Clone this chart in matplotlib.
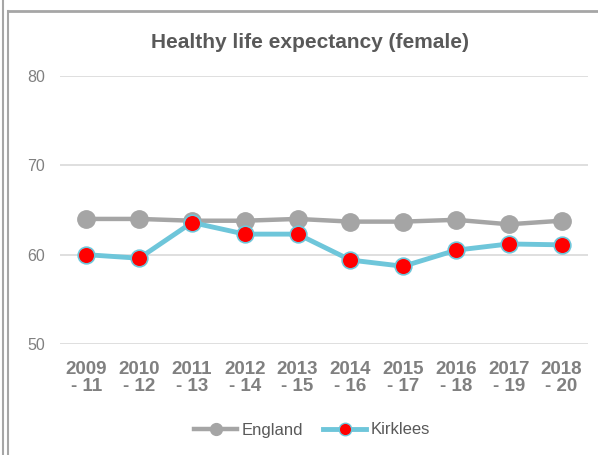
import matplotlib
matplotlib.use("Agg")
import matplotlib.pyplot as plt
from matplotlib.lines import Line2D

periods = ["2009\n- 11", "2010\n- 12", "2011\n- 13", "2012\n- 14", "2013\n- 15",
           "2014\n- 16", "2015\n- 17", "2016\n- 18", "2017\n- 19", "2018\n- 20"]
england = [64.0, 64.0, 63.8, 63.8, 64.0, 63.7, 63.7, 63.9, 63.4, 63.8]
kirklees = [60.0, 59.6, 63.6, 62.3, 62.3, 59.4, 58.7, 60.5, 61.2, 61.1]
yticks = [50, 60, 70, 80]

plt.rcParams['font.family'] = ['Liberation Sans', 'DejaVu Sans']

fig = plt.figure(figsize=(5.98, 4.55), dpi=100)
ax = fig.add_axes([60/598, 1-344/455, 528/598, 268/455])

x = list(range(len(periods)))
grey = "#A5A5A5"
blue = "#6EC6DA"

ax.plot(x, england, color=grey, lw=3.2, marker="o", ms=12.5,
        mfc=grey, mec=grey, zorder=3)
ax.plot(x, kirklees, color=blue, lw=3.5, marker="o", ms=12,
        mfc="red", mec=blue, mew=1.2, zorder=4)

ax.set_xlim(-0.5, len(periods) - 0.5)
ax.set_ylim(50, 80)
ax.set_yticks(yticks)
ax.set_xticks(x)
ax.set_xticklabels(periods, fontsize=13.5, fontweight="bold", color="#808080",
                   linespacing=1.0)
ax.set_yticklabels([str(v) for v in yticks], fontsize=11.5, color="#808080")
ax.tick_params(length=0)
ax.tick_params(axis="y", pad=11)
ax.tick_params(axis="x", pad=12)
ax.grid(axis="y", color="#D9D9D9", lw=1.2)
ax.set_axisbelow(True)
for s in ax.spines.values():
    s.set_visible(False)

fig.text(310/598, 1-43/455, "Healthy life expectancy (female)", ha="center",
         va="center", fontsize=15, fontweight="bold", color="#595959")

# chart frame
fig.add_artist(Line2D([8/598, 1], [1-11/455, 1-11/455], color="#A6A6A6", lw=2))
fig.add_artist(Line2D([8/598, 8/598], [0, 1-11/455], color="#A6A6A6", lw=1.5))
fig.add_artist(Line2D([3/598, 3/598], [0, 1], color="#A6A6A6", lw=1.5))

handles = [
    Line2D([], [], color=grey, lw=3.2, marker="o", ms=8.5, mfc=grey, mec=grey),
    Line2D([], [], color=blue, lw=3.5, marker="o", ms=9, mfc="red", mec=blue),
]
fig.legend(handles, ["England", "Kirklees"], loc="center",
           bbox_to_anchor=(312/598, 1-430/455), ncol=2, frameon=False,
           fontsize=12, labelcolor="#595959", handlelength=2.6,
           handletextpad=0.25, columnspacing=1.2)

fig.savefig("out.png", dpi=100)
